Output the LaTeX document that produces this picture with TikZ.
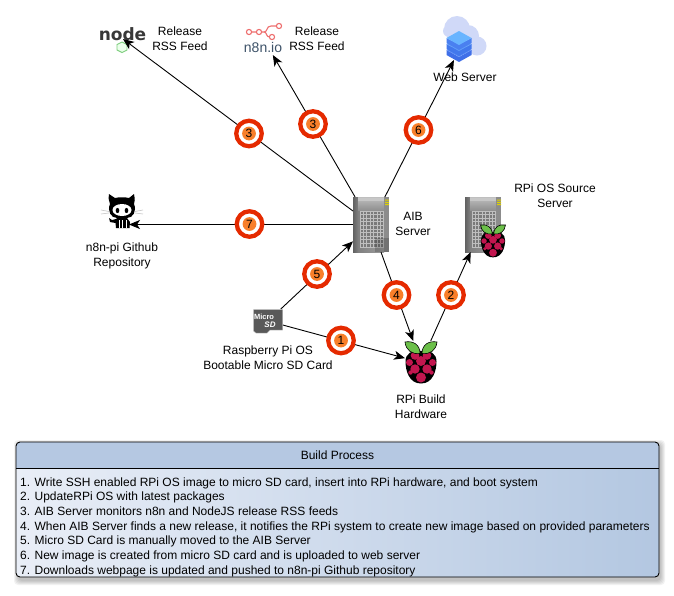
\documentclass[tikz,border=0pt]{standalone}
\usepackage{fontspec}
\setmainfont{Liberation Sans}
\newfontfamily\logofont{DejaVu Sans}
\usetikzlibrary{arrows.meta,shadings}
\definecolor{ringred}{HTML}{E52A00}
\definecolor{badgeorange}{HTML}{F87F2A}
\definecolor{berry}{HTML}{C2164F}
\definecolor{leaf}{HTML}{6CC04A}
\definecolor{headblue}{HTML}{B5C8E2}
\definecolor{bodylight}{HTML}{E9EEF7}
\definecolor{bodydark}{HTML}{B3C7E1}
\definecolor{coral}{HTML}{EE6F6F}
\definecolor{slate}{HTML}{3E5369}
\definecolor{cloudc}{HTML}{D0D9F8}
\tikzset{
  x=1pt,y=-1pt,
  lbl/.style={font=\fontsize{12}{15}\selectfont,align=center,inner sep=0pt},
  link/.style={draw=black,line width=0.9pt,-{Stealth[length=11pt,width=9pt,inset=3pt]}},
  iconbox/.style={inner sep=0pt,outer sep=0pt,draw=none},
  ringb/.style={circle,draw=ringred,line width=4.3pt,fill=white,minimum size=25.5pt,inner sep=0pt},
  numb/.style={circle,fill=badgeorange,minimum size=13.8pt,inner sep=0pt,font=\fontsize{12}{12}\selectfont},
  steptext/.style={anchor=base west,inner sep=0pt,font=\fontsize{12}{14}\selectfont}
}
\newcommand{\mybadge}[4]{\node[ringb] (r#1) at (#2,#3) {}; \node[numb] (b#1) at (#2,#3) {#4};}
\newcommand{\myserver}[2]{%
\begin{scope}[shift={(#1,#2)}]
  \shade[left color=black!62,right color=black!48] (0,0) rectangle (6,55);
  \shade[top color=black!25,bottom color=black!45] (5,0) rectangle (31,14);
  \fill[black!22] (5,1) rectangle (31,4);
  \shade[left color=black!50,right color=black!38] (5,14) rectangle (31,55);
  \fill[black!45] (31,0) rectangle (36,55);
  \fill[black!52] (7,14) rectangle (31,50);
  \foreach \gx in {7,10.4,...,31.5} \draw[black!25,line width=0.8pt] (\gx,14) -- (\gx,50);
  \foreach \gy in {14,17.6,...,50.5} \draw[black!25,line width=0.8pt] (7,\gy) -- (31,\gy);
  \fill[yellow!70!olive] (32,2.5) rectangle (36,3.7) (32,4.8) rectangle (36,6) (32,7) rectangle (36,8.2);
\end{scope}}
\newcommand{\myberry}[3]{%
\begin{scope}[shift={(#1,#2)},scale=#3]
  \fill[black] (0,-11.5) .. controls (9,-13) and (15.5,-9) .. (15.5,-1)
     .. controls (15.5,8) and (12,21) .. (0,21)
     .. controls (-12,21) and (-15.5,8) .. (-15.5,-1)
     .. controls (-15.5,-9) and (-9,-13) .. (0,-11.5) -- cycle;
  \foreach \px/\py/\pr in {-6/-7/4.3,6/-7/4.3,-11.5/0/3.5,0/-1.5/5,11.5/0/3.5,-6/6.5/4.7,6/6.5/4.7,-10.5/10/2.2,10.5/10/2.2,0/15/5}
    \fill[berry] (\px,\py) circle (\pr);
  \filldraw[fill=leaf,draw=black,line width=0.6pt] (-1,-9) .. controls (-9,-8) and (-15,-12) .. (-16,-20.5)
     .. controls (-8,-22) and (-1,-18) .. (-1,-9) -- cycle;
  \filldraw[fill=leaf,draw=black,line width=0.6pt] (1,-9) .. controls (9,-8) and (15,-12) .. (16,-20.5)
     .. controls (8,-22) and (1,-18) .. (1,-9) -- cycle;
\end{scope}}
\begin{document}
\begin{tikzpicture}
\useasboundingbox (0,0) rectangle (674,595);
\fill[white] (0,0) rectangle (674,595);

% invisible icon frames (connector ends)
\node[iconbox,minimum width=36pt,minimum height=55pt] (aib) at (371,224.5) {};
\node[iconbox,minimum width=36pt,minimum height=55pt] (srv) at (483,224.5) {};
\node[iconbox,minimum width=32pt,minimum height=43pt] (rpi) at (421,362.5) {};
\node[iconbox,minimum width=30pt,minimum height=24pt] (sd) at (268,321) {};
\node[iconbox,minimum width=44pt,minimum height=44pt] (web) at (465,38) {};
\node[iconbox,minimum width=40pt,minimum height=34pt] (neight) at (263,38) {};
\node[iconbox,minimum width=48pt,minimum height=12pt] (njs) at (123,33) {};
\node[iconbox,minimum width=22pt,minimum height=30pt] (gh) at (118,209.5) {};

% icons
\myserver{353}{197}
\fill[black,opacity=.18] (375,238) rectangle (389,252);
\myserver{465}{197}
\myberry{493}{241}{0.78}
\myberry{421}{362.5}{1}

% SD card
\filldraw[fill=gray!70!black,draw=gray!60] (253.5,309.5) -- (282.5,309.5) -- (282.5,330) -- (270,330) -- (267,333) -- (256,333) -- (253.5,331) -- cycle;
\node[inner sep=0pt,text=white,font=\fontsize{7.5}{8}\bfseries\selectfont] (sdt1) at (264,317) {Micro};
\node[inner sep=0pt,text=white,font=\fontsize{8}{8}\bfseries\itshape\selectfont] (sdt2) at (270,324.5) {SD};

% node logo
\node[inner sep=0pt,text=black!78,font=\logofont\fontsize{17}{17}\bfseries\selectfont] (njstext) at (122.5,34) {node};
\draw[green!45!gray!70,line width=0.9pt,fill=green!8] (122,42) -- (127,44.5) -- (127,50) -- (122,52.5) -- (117,50) -- (117,44.5) -- cycle;

% n8n logo
\draw[coral,line width=1.1pt] (249,32) circle (2.6) (259,32) circle (2.6) (279,26) circle (2.6) (272,37) circle (2.6);
\draw[coral,line width=1.1pt] (251.6,32) -- (256.4,32) (261.6,32) -- (264,32)
  .. controls (268,32) and (266,26) .. (271,26) -- (276.4,26)
  (264,32) .. controls (267,32) and (266,37) .. (269.4,37);
\node[inner sep=0pt,text=slate,font=\fontsize{14}{14}\selectfont] (n8nt) at (263,47) {n8n.io};

% cloud + stacked server
\fill[cloudc] (457,29) circle (13) (449,31) circle (6) (468,36) circle (11) (477,46) circle (9.5) (460,42) circle (12);
\foreach \sy/\st/\sd in {50/5A8DF5/3F6FE8,44/5F9DF8/4278EC,38/68B4FF/4A80F0}{
  \definecolor{tc}{HTML}{\st}\definecolor{sc}{HTML}{\sd}
  \fill[sc] (446.5,\sy) -- (459,\sy+7) -- (471.5,\sy) -- (471.5,\sy+5) -- (459,\sy+12) -- (446.5,\sy+5) -- cycle;
  \fill[tc] (446.5,\sy) -- (459,\sy-7) -- (471.5,\sy) -- (459,\sy+7) -- cycle;
}

% github cat
\draw[gray!45,line width=0.6pt] (101,210) -- (109,211.5) (101,214) -- (109,213) (135,211.5) -- (143,210) (135,213) -- (143,214);
\fill[black] (109,194) -- (115,198) .. controls (119,197) and (125,197) .. (129,198) -- (134,194)
  .. controls (135,199) and (135,202) .. (134,204) .. controls (137,211) and (133,218) .. (127,218)
  -- (130,222) -- (129.5,228) -- (116,228) -- (115.5,223) -- (110,222) -- (109,218) -- (112,220) -- (116,219) -- (117,218)
  .. controls (111,218) and (107,211) .. (110,204) .. controls (108.5,201) and (108.5,198) .. (109,194) -- cycle;
\fill[white] (122,210) ellipse (9.5 and 6);
\fill[black] (117.5,210.5) ellipse (1.8 and 2.6) (126.5,210.5) ellipse (1.8 and 2.6);
\draw[white,line width=0.5pt] (119,220) -- (119,228) (122.5,220) -- (122.5,228) (126,220) -- (126,228);

% connectors
\draw[link] (aib) -- (njs.south);
\draw[link] (aib) -- (neight);
\draw[link] (aib) -- (web);
\draw[link] (aib.west) -- (gh.south east);
\draw[link] (sd) -- (aib);
\draw[link] (aib) -- (rpi);
\draw[link] (rpi) -- (srv);
\draw[link] (sd) -- (rpi);

% badges
\mybadge{a}{341}{340.5}{1}
\mybadge{b}{451}{295}{2}
\mybadge{c}{249}{133.5}{3}
\mybadge{d}{313}{124}{3}
\mybadge{e}{396.5}{295}{4}
\mybadge{f}{317}{274}{5}
\mybadge{g}{418.5}{130}{6}
\mybadge{h}{249.5}{224}{7}

% labels
\node[lbl] (l1) at (180,39) {Release\\RSS Feed};
\node[lbl] (l2) at (317,39) {Release\\RSS Feed};
\node[lbl] (l3) at (465,77) {Web Server};
\node[lbl] (l4) at (555,196) {RPi OS Source\\Server};
\node[lbl] (l5) at (413,224) {AIB\\Server};
\node[lbl] (l6) at (122,256) {n8n-pi Github\\Repository};
\node[lbl] (l7) at (268,358) {Raspberry Pi OS\\Bootable Micro SD Card};
\node[lbl] (l8) at (421,407) {RPi Build\\Hardware};

% build process panel: shadow
\foreach \so in {5,4,3,2,1}
  \fill[black,opacity=0.05,rounded corners=4pt] (16-\so+3,442+3-\so) rectangle (659+\so+1,577+\so+3);
\shade[rounded corners=4pt,left color=bodylight,right color=bodydark] (16,442) rectangle (659,577);
\fill[headblue,rounded corners=4pt] (16,442) rectangle (659,468);
\fill[headblue] (16,458) rectangle (659,468);
\draw[black,line width=0.9pt] (16,468) -- (659,468);
\node[iconbox,draw=black,line width=0.9pt,rounded corners=4pt,minimum width=643pt,minimum height=135pt] (panel) at (337.5,509.5) {};
\node[lbl] (ptitle) at (337.5,455) {Build Process};
\node[steptext] (s1) at (20,486) {1. Write SSH enabled RPi OS image to micro SD card, insert into RPi hardware, and boot system};
\node[steptext] (s2) at (20,500.7) {2. UpdateRPi OS with latest packages};
\node[steptext] (s3) at (20,515.4) {3. AIB Server monitors n8n and NodeJS release RSS feeds};
\node[steptext] (s4) at (20,530.1) {4. When AIB Server finds a new release, it notifies the RPi system to create new image based on provided parameters};
\node[steptext] (s5) at (20,544.8) {5. Micro SD Card is manually moved to the AIB Server};
\node[steptext] (s6) at (20,559.5) {6. New image is created from micro SD card and is uploaded to web server};
\node[steptext] (s7) at (20,574.2) {7. Downloads webpage is updated and pushed to n8n-pi Github repository};
\end{tikzpicture}
\end{document}
